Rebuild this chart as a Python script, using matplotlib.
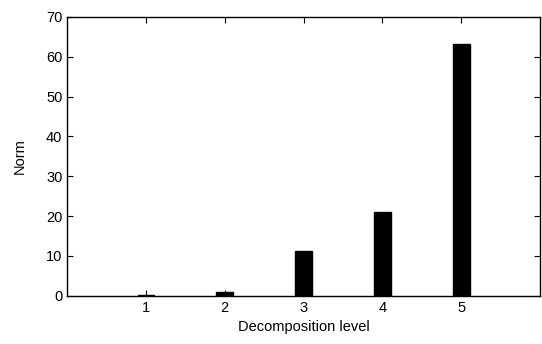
import numpy as np
import matplotlib.pyplot as plt

plt.rcParams['font.family'] = ['Liberation Sans', 'DejaVu Sans']

# Norm per decomposition level
levels = [1, 2, 3, 4, 5]
norms = [0.25, 1.0, 11.2, 21.0, 63.2]

fig = plt.figure(figsize=(5.42, 3.44), dpi=100)
ax = fig.add_axes([0.124, 0.14, 0.872, 0.811])

ax.bar(levels, norms, width=0.215, color='black', edgecolor='black')

ax.set_xlim(0, 6)
ax.set_ylim(0, 70)
ax.set_xticks(levels)
ax.set_yticks(np.arange(0, 71, 10))
ax.tick_params(direction='in', top=True, right=True, labelsize=10.5, length=4)
for s in ax.spines.values():
    s.set_linewidth(1.0)

ax.set_xlabel('Decomposition level', fontsize=10.5, labelpad=4)
ax.set_ylabel('Norm', fontsize=10.5, labelpad=14)

fig.savefig('out.png', dpi=100)
